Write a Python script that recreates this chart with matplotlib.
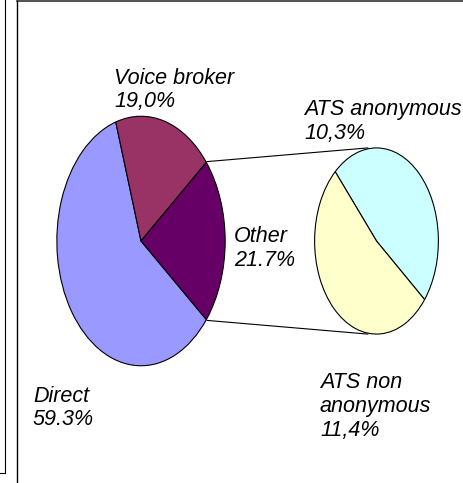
import matplotlib.pyplot as plt
import numpy as np

# Data
main_labels = ["Direct", "Voice broker", "Other"]
main_values = [59.3, 19.0, 21.7]
main_texts = ["Direct\n59.3%", "Voice broker\n19,0%", "Other\n21.7%"]
main_colors = ["#9999FF", "#993366", "#660066"]

sub_labels = ["ATS anonymous", "ATS non anonymous"]
sub_values = [10.3, 11.4]
sub_texts = ["ATS anonymous\n10,3%", "ATS non\nanonymous\n11,4%"]
sub_colors = ["#CCFFFF", "#FFFFCC"]

W, H = 463, 483
fig = plt.figure(figsize=(W / 100, H / 100), dpi=100)
plt.rcParams["font.family"] = ["Liberation Sans", "DejaVu Sans"]


def px_axes(x0, y0, x1, y1):
    # axes placed by pixel box (image coords, y down)
    return fig.add_axes([x0 / W, 1 - y1 / H, (x1 - x0) / W, (y1 - y0) / H])


wedge_style = dict(edgecolor="black", linewidth=0.8)

# main pie (stretched into an ellipse)
main_box = (56, 115, 226, 367)
ax1 = px_axes(*main_box)
other_deg = main_values[2] / sum(main_values) * 360
ax1.pie(main_values, colors=main_colors, startangle=-other_deg / 2,
        counterclock=False, radius=1, wedgeprops=wedge_style)
ax1.set_aspect("auto")
ax1.set_xlim(-1.01, 1.01)
ax1.set_ylim(-1.01, 1.01)
ax1.axis("off")

# secondary pie
sub_box = (314, 147, 439, 335)
ax2 = px_axes(*sub_box)
ax2.pie(sub_values, colors=sub_colors, startangle=-39,
        counterclock=True, radius=1, wedgeprops=wedge_style)
ax2.set_aspect("auto")
ax2.set_xlim(-1.01, 1.01)
ax2.set_ylim(-1.01, 1.01)
ax2.axis("off")

# overlay in pixel coords for connectors, frame and labels
ov = fig.add_axes([0, 0, 1, 1], zorder=-1)
ov.set_xlim(0, W)
ov.set_ylim(H, 0)
ov.axis("off")


def ell_point(box, ang):
    cx = (box[0] + box[2]) / 2
    cy = (box[1] + box[3]) / 2
    a = (box[2] - box[0]) / 2
    b = (box[3] - box[1]) / 2
    t = np.radians(ang)
    return cx + a * np.cos(t), cy - b * np.sin(t)


for sgn in (1, -1):
    p0 = ell_point(main_box, sgn * other_deg / 2)
    p1 = ell_point(sub_box, sgn * 98)
    ov.plot([p0[0], p1[0]], [p0[1], p1[1]], color="black", lw=0.8)

# frame lines
ov.plot([17, W], [1, 1], color="#333333", lw=1.2)
ov.plot([17, 17], [1, H], color="black", lw=1.0)
ov.plot([4.5, 4.5], [0, 473], color="black", lw=0.8)
ov.plot([0, 4.5], [473, 473], color="black", lw=0.8)

label_style = dict(fontsize=15.5, style="italic", va="top", ha="left",
                   color="black")
ov.text(33, 386, main_texts[0], linespacing=1.15, **label_style)
ov.text(114, 68, main_texts[1], linespacing=1.15, **label_style)
ov.text(234, 226, main_texts[2], linespacing=1.2, **label_style)
ov.text(304, 99, sub_texts[0], linespacing=1.2, **label_style)
ov.text(320, 372, sub_texts[1], linespacing=1.2, **label_style)

fig.savefig("out.png", dpi=100)
